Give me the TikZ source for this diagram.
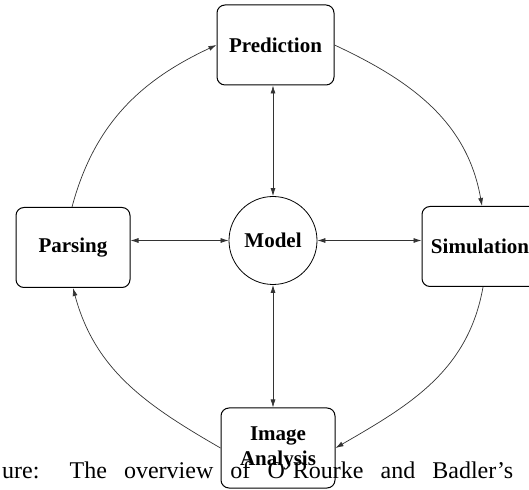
\documentclass[tikz,border=0pt]{standalone}
\usepackage{fontspec}
\setmainfont{Liberation Serif}
\usetikzlibrary{arrows.meta}

\begin{document}
\begin{tikzpicture}[
    x=1pt, y=1pt,
    every node/.style={font=\fontsize{21}{25}\selectfont\bfseries},
    box/.style={draw, line width=1pt, rounded corners=8pt, minimum height=80pt, align=center},
    link/.style={draw=black!80, line width=0.7pt, {Latex[length=8pt,width=5pt]}-{Latex[length=8pt,width=5pt]}},
    flow/.style={draw=black!80, line width=0.7pt, -{Latex[length=8pt,width=5pt]}},
  ]
    \useasboundingbox (0,0) rectangle (529,489);

    % 四个处理模块与中心模型
    \node[box, minimum width=117pt] (pred)  at (275.5, 444) {Prediction};
    \node[box, minimum width=114pt] (parse) at (73, 241.5)  {Parsing};
    \node[box, minimum width=116pt] (sim)   at (480, 242.5) {Simulation};
    \node[box, minimum width=114pt] (img)   at (278, 41)    {Image\\Analysis};
    \node[draw, circle, line width=0.8pt, minimum size=88pt] (model) at (273, 248.5) {Model};

    % 与模型之间的双向箭头
    \draw[link] (model.north) -- (model.north |- pred.south);
    \draw[link] (model.south) -- (model.south |- img.north);
    \draw[link] (model.west) -- (model.west -| parse.east);
    \draw[link] (model.east) -- (model.east -| sim.west);

    % 外圈循环
    \draw[flow] ([xshift=-1pt]parse.north) to[out=75, in=205] (pred.west);
    \draw[flow] (pred.east) to[out=-25, in=100] ([xshift=2pt]sim.north);
    \draw[flow] ([xshift=3pt]sim.south) to[out=-100, in=30] (img.east);
    \draw[flow] (img.west) to[out=150, in=-75] (parse.south);

    % 图注（被截断的一行）
    \node[font=\fontsize{24}{28}\selectfont, anchor=base west, inner sep=0pt] (cap) at (2, 11)
      {\makebox[511pt][s]{ure: The overview of O’Rourke and Badler’s}};
\end{tikzpicture}
\end{document}
